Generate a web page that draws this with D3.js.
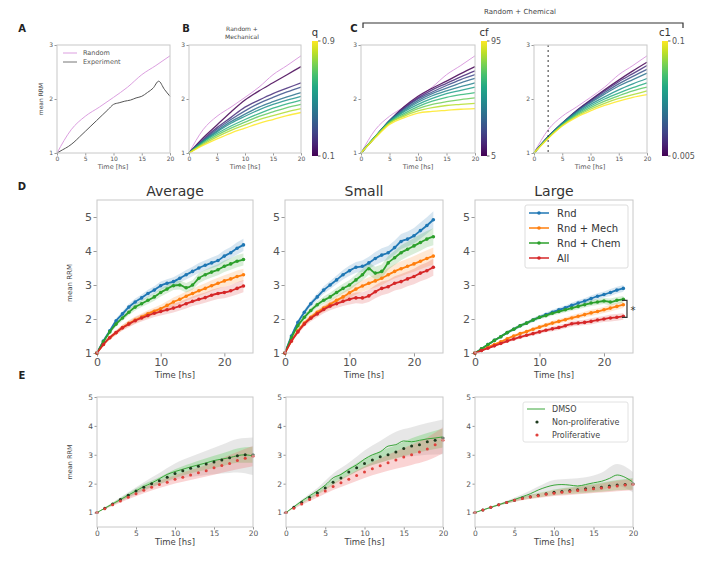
<!DOCTYPE html>
<html>
<head>
<meta charset="utf-8">
<script src="https://cdn.jsdelivr.net/npm/d3@7"></script>
<style>
  body { margin: 0; background: #fff; }
  text { font-family: "DejaVu Sans", sans-serif; }
</style>
</head>
<body>
<div id="vis"></div>
<script>
// ---------- panel A-C data (sampled every 2.5 h) ----------
const tSim = [0, 2.5, 5, 7.5, 10, 12.5, 15, 17.5, 20];
const randomMean = [1, 1.43, 1.68, 1.85, 2.03, 2.22, 2.45, 2.62, 2.8];
const tExp = [0, 1, 2, 3, 4, 5, 6, 7, 8, 9, 10, 11, 12, 13, 14, 15, 16, 17, 18, 19, 20];
const experimentMean = [1, 1.06, 1.12, 1.2, 1.3, 1.4, 1.5, 1.6, 1.7, 1.8, 1.9, 1.93, 1.96, 1.98, 2.02, 2.05, 2.12, 2.2, 2.33, 2.18, 2.05];

const qValues = [0.1, 0.2, 0.3, 0.4, 0.5, 0.6, 0.7, 0.8, 0.9];
const qSeries = [
  [1, 1.28, 1.52, 1.76, 1.98, 2.15, 2.3, 2.45, 2.6],
  [1, 1.25, 1.47, 1.66, 1.85, 1.98, 2.1, 2.2, 2.3],
  [1, 1.23, 1.44, 1.62, 1.78, 1.92, 2.03, 2.13, 2.22],
  [1, 1.22, 1.41, 1.58, 1.72, 1.85, 1.95, 2.04, 2.12],
  [1, 1.21, 1.39, 1.55, 1.68, 1.8, 1.9, 1.98, 2.05],
  [1, 1.2, 1.36, 1.5, 1.62, 1.73, 1.83, 1.91, 1.98],
  [1, 1.18, 1.33, 1.46, 1.57, 1.68, 1.76, 1.84, 1.9],
  [1, 1.16, 1.3, 1.42, 1.52, 1.62, 1.69, 1.76, 1.82],
  [1, 1.14, 1.26, 1.37, 1.46, 1.55, 1.62, 1.69, 1.75]
];

const cfValues = [5, 15, 25, 35, 45, 55, 65, 75, 85, 95];
const cfSeries = [
  [1, 1.3, 1.6, 1.85, 2.05, 2.2, 2.33, 2.47, 2.6],
  [1, 1.3, 1.6, 1.83, 2.02, 2.17, 2.29, 2.41, 2.52],
  [1, 1.3, 1.6, 1.82, 2.0, 2.13, 2.25, 2.36, 2.45],
  [1, 1.3, 1.6, 1.8, 1.97, 2.1, 2.2, 2.3, 2.38],
  [1, 1.3, 1.59, 1.78, 1.94, 2.06, 2.15, 2.23, 2.3],
  [1, 1.3, 1.58, 1.76, 1.9, 2.01, 2.1, 2.16, 2.22],
  [1, 1.3, 1.57, 1.73, 1.86, 1.96, 2.03, 2.08, 2.12],
  [1, 1.3, 1.56, 1.7, 1.82, 1.9, 1.95, 1.99, 2.02],
  [1, 1.29, 1.55, 1.68, 1.78, 1.84, 1.88, 1.9, 1.92],
  [1, 1.28, 1.53, 1.65, 1.74, 1.77, 1.79, 1.81, 1.82]
];

const c1Values = [0.005, 0.017, 0.029, 0.041, 0.053, 0.064, 0.076, 0.088, 0.1];
const c1Series = [
  [1, 1.3, 1.55, 1.78, 1.98, 2.17, 2.35, 2.52, 2.68],
  [1, 1.3, 1.55, 1.78, 1.97, 2.15, 2.32, 2.47, 2.62],
  [1, 1.3, 1.55, 1.77, 1.95, 2.12, 2.28, 2.42, 2.55],
  [1, 1.3, 1.55, 1.76, 1.93, 2.09, 2.24, 2.36, 2.48],
  [1, 1.29, 1.54, 1.74, 1.9, 2.04, 2.17, 2.28, 2.38],
  [1, 1.29, 1.53, 1.72, 1.87, 2.0, 2.11, 2.21, 2.3],
  [1, 1.28, 1.52, 1.7, 1.84, 1.96, 2.06, 2.15, 2.22],
  [1, 1.28, 1.51, 1.68, 1.81, 1.92, 2.01, 2.08, 2.15],
  [1, 1.27, 1.5, 1.66, 1.78, 1.88, 1.96, 2.03, 2.08]
];
const c2Marker = 2.5;

// ---------- panel D data (hourly) ----------
const tD = [0, 1, 2, 3, 4, 5, 6, 7, 8, 9, 10, 11, 12, 13, 14, 15, 16, 17, 18, 19, 20, 21, 22, 23];
const modelNames = ["Rnd", "Rnd + Mech", "Rnd + Chem", "All"];
const modelColors = ["#1f77b4", "#ff7f0e", "#2ca02c", "#d62728"];
const avgRnd  = [1, 1.35, 1.65, 1.95, 2.15, 2.35, 2.5, 2.62, 2.75, 2.85, 2.98, 3.05, 3.1, 3.2, 3.3, 3.4, 3.5, 3.58, 3.65, 3.72, 3.85, 3.95, 4.08, 4.18];
const avgMech = [1, 1.25, 1.45, 1.6, 1.75, 1.87, 1.97, 2.06, 2.15, 2.23, 2.3, 2.4, 2.5, 2.58, 2.67, 2.75, 2.83, 2.9, 2.98, 3.05, 3.12, 3.18, 3.25, 3.3];
const avgChem = [1, 1.33, 1.62, 1.85, 2.03, 2.2, 2.35, 2.45, 2.55, 2.65, 2.78, 2.88, 2.98, 3.0, 2.92, 3.0, 3.2, 3.3, 3.38, 3.45, 3.55, 3.62, 3.7, 3.75];
const avgAll  = [1, 1.25, 1.45, 1.6, 1.74, 1.85, 1.95, 2.03, 2.1, 2.17, 2.22, 2.27, 2.32, 2.38, 2.45, 2.52, 2.58, 2.63, 2.7, 2.75, 2.78, 2.83, 2.9, 2.97];
const smallRnd  = [1, 1.5, 1.9, 2.2, 2.45, 2.65, 2.85, 3.0, 3.15, 3.3, 3.42, 3.52, 3.55, 3.65, 3.78, 3.88, 3.95, 4.1, 4.28, 4.35, 4.45, 4.6, 4.75, 4.92];
const smallMech = [1, 1.35, 1.65, 1.88, 2.05, 2.2, 2.32, 2.43, 2.55, 2.65, 2.77, 2.88, 2.97, 3.05, 3.12, 3.2, 3.3, 3.4, 3.48, 3.55, 3.62, 3.7, 3.78, 3.85];
const smallChem = [1, 1.45, 1.8, 2.05, 2.25, 2.42, 2.55, 2.65, 2.78, 2.9, 3.0, 3.15, 3.3, 3.48, 3.35, 3.4, 3.65, 3.8, 3.95, 4.05, 4.15, 4.25, 4.35, 4.42];
const smallAll  = [1, 1.35, 1.62, 1.85, 2.02, 2.15, 2.28, 2.38, 2.45, 2.52, 2.58, 2.62, 2.62, 2.68, 2.8, 2.9, 2.95, 3.05, 3.1, 3.18, 3.25, 3.35, 3.42, 3.52];
const largeRnd  = [1, 1.12, 1.25, 1.37, 1.48, 1.6, 1.7, 1.8, 1.88, 1.97, 2.05, 2.13, 2.2, 2.27, 2.33, 2.4, 2.47, 2.53, 2.6, 2.67, 2.72, 2.78, 2.85, 2.9];
const largeMech = [1, 1.08, 1.17, 1.25, 1.33, 1.42, 1.5, 1.57, 1.63, 1.7, 1.76, 1.82, 1.88, 1.93, 1.98, 2.03, 2.08, 2.13, 2.18, 2.22, 2.27, 2.32, 2.37, 2.42];
const largeChem = [1, 1.12, 1.25, 1.37, 1.48, 1.6, 1.7, 1.8, 1.88, 1.97, 2.05, 2.1, 2.17, 2.22, 2.27, 2.32, 2.37, 2.42, 2.47, 2.5, 2.53, 2.5, 2.55, 2.58];
const largeAll  = [1, 1.07, 1.14, 1.21, 1.28, 1.35, 1.41, 1.47, 1.52, 1.57, 1.62, 1.67, 1.71, 1.75, 1.8, 1.86, 1.88, 1.9, 1.93, 1.97, 2.0, 2.03, 2.05, 2.08];
const sdAverage = [0, 0.04, 0.06, 0.07, 0.08, 0.09, 0.1, 0.1, 0.11, 0.11, 0.12, 0.12, 0.13, 0.13, 0.14, 0.14, 0.15, 0.15, 0.16, 0.16, 0.17, 0.17, 0.18, 0.18];
const sdSmall   = [0, 0.05, 0.07, 0.08, 0.09, 0.1, 0.11, 0.12, 0.13, 0.14, 0.15, 0.16, 0.17, 0.18, 0.19, 0.2, 0.2, 0.21, 0.22, 0.22, 0.23, 0.24, 0.24, 0.25];
const sdLarge   = [0, 0.02, 0.03, 0.03, 0.04, 0.04, 0.05, 0.05, 0.05, 0.06, 0.06, 0.06, 0.07, 0.07, 0.07, 0.08, 0.08, 0.08, 0.09, 0.09, 0.09, 0.1, 0.1, 0.1];

// ---------- panel E data (hourly means, bands every 2 h) ----------
const tE = [0, 1, 2, 3, 4, 5, 6, 7, 8, 9, 10, 11, 12, 13, 14, 15, 16, 17, 18, 19, 20];
const tBand = [0, 2, 4, 6, 8, 10, 12, 14, 16, 18, 20];
const expNames = ["DMSO", "Non-proliferative", "Proliferative"];
const eAvgDmso = [1.0, 1.15, 1.3, 1.45, 1.6, 1.75, 1.9, 2.02, 2.17, 2.32, 2.42, 2.5, 2.58, 2.65, 2.72, 2.8, 2.85, 2.9, 2.97, 3.0, 2.95];
const eAvgNon  = [1.0, 1.15, 1.3, 1.45, 1.6, 1.75, 1.88, 2.0, 2.1, 2.22, 2.35, 2.45, 2.53, 2.6, 2.68, 2.75, 2.82, 2.9, 2.97, 3.0, 3.0];
const eAvgPro  = [1.0, 1.13, 1.27, 1.4, 1.53, 1.65, 1.77, 1.88, 1.97, 2.05, 2.15, 2.22, 2.3, 2.38, 2.45, 2.55, 2.63, 2.7, 2.8, 2.88, 2.95];
const eSmallDmso = [1.0, 1.2, 1.4, 1.58, 1.75, 1.95, 2.2, 2.32, 2.5, 2.65, 2.85, 3.0, 3.1, 3.3, 3.35, 3.48, 3.45, 3.5, 3.55, 3.58, 3.62];
const eSmallNon  = [1.0, 1.18, 1.35, 1.52, 1.68, 1.85, 2.05, 2.2, 2.4, 2.55, 2.7, 2.82, 2.93, 3.0, 3.1, 3.22, 3.3, 3.35, 3.45, 3.5, 3.58];
const eSmallPro  = [1.0, 1.15, 1.3, 1.45, 1.6, 1.75, 1.9, 2.03, 2.15, 2.28, 2.4, 2.52, 2.62, 2.72, 2.82, 2.92, 3.0, 3.1, 3.2, 3.35, 3.5];
const eLargeDmso = [1.0, 1.09, 1.18, 1.27, 1.36, 1.45, 1.55, 1.65, 1.78, 1.88, 1.95, 1.97, 1.95, 1.92, 1.97, 2.03, 2.08, 2.18, 2.3, 2.22, 2.05];
const eLargeNon  = [1.0, 1.09, 1.18, 1.27, 1.35, 1.43, 1.5, 1.55, 1.6, 1.65, 1.7, 1.73, 1.76, 1.79, 1.82, 1.85, 1.88, 1.92, 1.95, 1.97, 2.0];
const eLargePro  = [1.0, 1.09, 1.18, 1.27, 1.35, 1.43, 1.49, 1.54, 1.58, 1.63, 1.67, 1.7, 1.73, 1.76, 1.79, 1.82, 1.85, 1.88, 1.92, 1.95, 1.97];
const eAvgSdDmso = [0, 0.05, 0.1, 0.15, 0.2, 0.28, 0.35, 0.42, 0.5, 0.58, 0.65];
const eAvgSdNon  = [0, 0.04, 0.07, 0.1, 0.12, 0.15, 0.17, 0.2, 0.22, 0.25, 0.28];
const eAvgSdPro  = [0, 0.04, 0.07, 0.1, 0.12, 0.14, 0.17, 0.2, 0.25, 0.3, 0.35];
const eSmallSdDmso = [0, 0.05, 0.1, 0.15, 0.22, 0.3, 0.38, 0.45, 0.5, 0.55, 0.6];
const eSmallSdNon  = [0, 0.04, 0.07, 0.1, 0.13, 0.16, 0.2, 0.23, 0.27, 0.3, 0.33];
const eSmallSdPro  = [0, 0.04, 0.08, 0.12, 0.16, 0.2, 0.25, 0.3, 0.35, 0.4, 0.45];
const eLargeSdDmso = [0, 0.03, 0.05, 0.08, 0.12, 0.18, 0.22, 0.25, 0.3, 0.38, 0.35];
const eLargeSdNon  = [0, 0.02, 0.04, 0.06, 0.08, 0.1, 0.12, 0.14, 0.16, 0.18, 0.2];
const eLargeSdPro  = [0, 0.02, 0.04, 0.06, 0.08, 0.1, 0.12, 0.14, 0.16, 0.18, 0.2];

const svg = d3.select('#vis').append('svg')
    .attr('width', 720)
    .attr('height', 562);

const frameColor = "#c8c8c8";
const tickColor = "#555";

function makePanel(box, xDomain, yDomain, xTicks, yTicks, fs) {
    const g = svg.append("g");
    const x = d3.scaleLinear().domain(xDomain).range([box.x0, box.x1]);
    const y = d3.scaleLinear().domain(yDomain).range([box.y1, box.y0]);
    const tl = fs > 9 ? 3.5 : 2.5;
    g.append("g")
        .attr("transform", `translate(0,${box.y1})`)
        .call(d3.axisBottom(x).tickValues(xTicks).tickSize(tl).tickPadding(1.5).tickFormat(d3.format("d")))
        .call(a => styleAxis(a, fs));
    g.append("g")
        .attr("transform", `translate(${box.x0},0)`)
        .call(d3.axisLeft(y).tickValues(yTicks).tickSize(tl).tickPadding(1.5).tickFormat(d3.format("d")))
        .call(a => styleAxis(a, fs));
    const marks = g.append("g");
    g.append("rect")
        .attr("x", box.x0).attr("y", box.y0)
        .attr("width", box.x1 - box.x0).attr("height", box.y1 - box.y0)
        .attr("fill", "none").attr("stroke", frameColor).attr("stroke-width", 1);
    return {g, marks, x, y, box};
}

function styleAxis(a, fs) {
    a.select(".domain").remove();
    a.selectAll(".tick line").attr("stroke", "#999");
    a.selectAll(".tick text").attr("fill", tickColor).style("font-size", fs + "px");
}

function label(txt, x, y, opts = {}) {
    const t = svg.append("text")
        .attr("x", x).attr("y", y)
        .attr("text-anchor", opts.anchor || "middle")
        .attr("fill", opts.color || "#444")
        .style("font-size", (opts.size || 7) + "px")
        .style("font-weight", opts.bold ? "bold" : "normal")
        .text(txt);
    if (opts.rotate) t.attr("transform", `rotate(-90,${x},${y})`);
    return t;
}

function drawLine(p, ts, vals, color, width, opacity = 1) {
    p.marks.append("path")
        .datum(ts.map((t, i) => [t, vals[i]]))
        .attr("fill", "none")
        .attr("stroke", color)
        .attr("stroke-width", width)
        .attr("stroke-opacity", opacity)
        .attr("d", d3.line().x(d => p.x(d[0])).y(d => p.y(d[1])).curve(d3.curveMonotoneX));
}

function colorbar(id, x, y0, y1, name, topLabel, bottomLabel) {
    const grad = svg.append("defs").append("linearGradient")
        .attr("id", id).attr("x1", 0).attr("y1", 1).attr("x2", 0).attr("y2", 0);
    d3.range(0, 1.01, 0.1).forEach(o => {
        grad.append("stop").attr("offset", o).attr("stop-color", d3.interpolateViridis(o));
    });
    svg.append("rect").attr("x", x).attr("y", y0).attr("width", 6).attr("height", y1 - y0)
        .attr("fill", `url(#${id})`);
    [[y0, topLabel], [y1, bottomLabel]].forEach(([yy, txt]) => {
        svg.append("line").attr("x1", x + 6).attr("x2", x + 8.5).attr("y1", yy).attr("y2", yy)
            .attr("stroke", "#666");
        label(txt, x + 10, yy + 3, {anchor: "start", size: 8, color: "#555"});
    });
    label(name, x + 3, y0 - 5, {size: 10, color: "#333"});
}

// ---------- A ----------
const simTicks = [0, 5, 10, 15, 20];
const pA = makePanel({x0: 57, x1: 170, y0: 45, y1: 153}, [0, 20], [1, 3], simTicks, [1, 2, 3], 6);
const randomColor = "#dc9fe0";
drawLine(pA, tSim, randomMean, randomColor, 1);
drawLine(pA, tExp, experimentMean, "#555", 1);
[["Random", randomColor, 55], ["Experiment", "#777", 64]].forEach(([txt, c, yy]) => {
    svg.append("line").attr("x1", 63).attr("x2", 77).attr("y1", yy - 2).attr("y2", yy - 2)
        .attr("stroke", c).attr("stroke-width", 1);
    label(txt, 83, yy, {anchor: "start", size: 6.5, color: "#555"});
});
label("A", 22, 32, {size: 10, bold: true, color: "#222"});
label("mean RRM", 43, 99, {size: 6, rotate: true});
label("Time [hs]", 113, 169, {size: 6.5, color: "#555"});

// ---------- B ----------
const pB = makePanel({x0: 189, x1: 301, y0: 45, y1: 153}, [0, 20], [1, 3], simTicks, [1, 2, 3], 6);
drawLine(pB, tSim, randomMean, randomColor, 1);
const qColor = d3.scaleSequential(d3.interpolateViridis).domain([0.1, 0.9]);
qSeries.forEach((s, i) => drawLine(pB, tSim, s, qColor(qValues[i]), 1.3, 0.85));
colorbar("cbq", 312, 41, 156, "q", "0.9", "0.1");
label("B", 186, 32, {size: 10, bold: true, color: "#222"});
label("Random +", 242, 31, {size: 6});
label("Mechanical", 242, 39, {size: 6});
label("Time [hs]", 245, 169, {size: 6.5, color: "#555"});

// ---------- C ----------
const pC1 = makePanel({x0: 361, x1: 475, y0: 45, y1: 153}, [0, 20], [1, 3], simTicks, [1, 2, 3], 6);
drawLine(pC1, tSim, randomMean, randomColor, 1);
const cfColor = d3.scaleSequential(d3.interpolateViridis).domain([5, 95]);
cfSeries.forEach((s, i) => drawLine(pC1, tSim, s, cfColor(cfValues[i]), 1.3, 0.85));
colorbar("cbcf", 481, 41, 156, "cf", "95", "5");

const pC2 = makePanel({x0: 534, x1: 647, y0: 45, y1: 153}, [0, 20], [1, 3], simTicks, [1, 2, 3], 6);
drawLine(pC2, tSim, randomMean, randomColor, 1);
const c1Color = d3.scaleSequential(d3.interpolateViridis).domain([0.005, 0.1]);
c1Series.forEach((s, i) => drawLine(pC2, tSim, s, c1Color(c1Values[i]), 1.3, 0.85));
pC2.marks.append("line")
    .attr("x1", pC2.x(c2Marker)).attr("x2", pC2.x(c2Marker))
    .attr("y1", pC2.y(3)).attr("y2", pC2.y(1))
    .attr("stroke", "#333").attr("stroke-width", 1).attr("stroke-dasharray", "2,3");
colorbar("cbc1", 662, 41, 156, "c1", "0.1", "0.005");
label("C", 354, 32, {size: 10, bold: true, color: "#222"});
label("Time [hs]", 418, 169, {size: 6.5, color: "#555"});
label("Time [hs]", 590, 169, {size: 6.5, color: "#555"});
label("Random + Chemical", 520, 14, {size: 7});
svg.append("path")
    .attr("d", "M363,28 L363,23 L683,23 L683,28")
    .attr("fill", "none").attr("stroke", "#333").attr("stroke-width", 1.2);

// ---------- D ----------
const dBoxes = [
    {x0: 97, x1: 253}, {x0: 285, x1: 443}, {x0: 475, x1: 633}
];
const dTitles = ["Average", "Small", "Large"];
const dSeries = [
    [avgRnd, avgMech, avgChem, avgAll],
    [smallRnd, smallMech, smallChem, smallAll],
    [largeRnd, largeMech, largeChem, largeAll]
];
const dSd = [sdAverage, sdSmall, sdLarge];
const dPanels = dBoxes.map((b, k) => {
    const p = makePanel({x0: b.x0, x1: b.x1, y0: 200, y1: 353}, [0, 24.5], [1, 5.5], [0, 10, 20], [1, 2, 3, 4, 5], 11);
    dSeries[k].forEach((s, i) => {
        p.marks.append("path")
            .datum(tD.map((t, j) => [t, s[j], dSd[k][j]]))
            .attr("fill", modelColors[i]).attr("fill-opacity", 0.18)
            .attr("d", d3.area().x(d => p.x(d[0])).y0(d => p.y(d[1] - d[2])).y1(d => p.y(d[1] + d[2])));
    });
    dSeries[k].forEach((s, i) => {
        drawLine(p, tD, s, modelColors[i], 1.8);
        p.marks.selectAll(null)
            .data(tD.map((t, j) => [t, s[j]]))
            .join("circle")
            .attr("cx", d => p.x(d[0])).attr("cy", d => p.y(d[1]))
            .attr("r", 1.8).attr("fill", modelColors[i]);
    });
    label(dTitles[k], (b.x0 + b.x1) / 2, 196, {size: 14, color: "#333"});
    label("Time [hs]", (b.x0 + b.x1) / 2, 378, {size: 8.5});
    return p;
});
label("D", 22, 190, {size: 10, bold: true, color: "#222"});
label("mean RRM", 72, 283, {size: 7, rotate: true});

// legend D
svg.append("rect").attr("x", 525).attr("y", 205).attr("width", 103).attr("height", 63)
    .attr("rx", 2).attr("fill", "#fff").attr("fill-opacity", 0.85).attr("stroke", "#ddd");
modelNames.forEach((n, i) => {
    const yy = 213 + i * 15;
    svg.append("line").attr("x1", 529).attr("x2", 549).attr("y1", yy).attr("y2", yy)
        .attr("stroke", modelColors[i]).attr("stroke-width", 1.5);
    svg.append("circle").attr("cx", 539).attr("cy", yy).attr("r", 1.8).attr("fill", modelColors[i]);
    label(n, 557, yy + 3.5, {anchor: "start", size: 10, color: "#333"});
});

// significance bracket (Large)
const pL = dPanels[2];
const bx = 627;
svg.append("path")
    .attr("d", `M${bx - 5},${pL.y(2.55)} L${bx},${pL.y(2.55)} L${bx},${pL.y(2.05)} L${bx - 5},${pL.y(2.05)}`)
    .attr("fill", "none").attr("stroke", "#333").attr("stroke-width", 1.2);
label("*", 633, pL.y(2.3) + 5, {size: 10, color: "#333"});

// ---------- E ----------
const eBoxes = [
    {x0: 97, x1: 253}, {x0: 286, x1: 443}, {x0: 475, x1: 633}
];
const eSeries = [
    [eAvgDmso, eAvgNon, eAvgPro],
    [eSmallDmso, eSmallNon, eSmallPro],
    [eLargeDmso, eLargeNon, eLargePro]
];
const eSd = [
    [eAvgSdDmso, eAvgSdNon, eAvgSdPro],
    [eSmallSdDmso, eSmallSdNon, eSmallSdPro],
    [eLargeSdDmso, eLargeSdNon, eLargeSdPro]
];
const bandColors = ["#b0b0b0", "#4cc94c", "#f07070"];
const dmsoColor = "#3aa63a";
const nonColor = "#1e3a1e";
const proColor = "#e0413c";
eBoxes.forEach((b, k) => {
    const p = makePanel({x0: b.x0, x1: b.x1, y0: 397, y1: 527}, [0, 20], [0.5, 5], [0, 5, 10, 15, 20], [1, 2, 3, 4, 5], 7.5);
    eSeries[k].forEach((s, i) => {
        p.marks.append("path")
            .datum(tBand.map((t, j) => [t, s[tE.indexOf(t)], eSd[k][i][j]]))
            .attr("fill", bandColors[i]).attr("fill-opacity", 0.3)
            .attr("d", d3.area().x(d => p.x(d[0]))
                .y0(d => p.y(d[1] - d[2])).y1(d => p.y(d[1] + d[2]))
                .curve(d3.curveMonotoneX));
    });
    drawLine(p, tE, eSeries[k][0], dmsoColor, 1);
    [[eSeries[k][1], nonColor], [eSeries[k][2], proColor]].forEach(([s, c]) => {
        p.marks.selectAll(null)
            .data(tE.map((t, j) => [t, s[j]]))
            .join("circle")
            .attr("cx", d => p.x(d[0])).attr("cy", d => p.y(d[1]))
            .attr("r", 1.5).attr("fill", c);
    });
    label("Time [hs]", (b.x0 + b.x1) / 2, 545, {size: 8.5});
});
label("E", 22, 379, {size: 10, bold: true, color: "#222"});
label("mean RRM", 72, 462, {size: 6.5, rotate: true});

// legend E
svg.append("rect").attr("x", 523).attr("y", 402).attr("width", 105).attr("height", 40)
    .attr("rx", 2).attr("fill", "#fff").attr("fill-opacity", 0.85).attr("stroke", "#e2e2e2");
svg.append("line").attr("x1", 527).attr("x2", 545).attr("y1", 409).attr("y2", 409)
    .attr("stroke", dmsoColor).attr("stroke-width", 1);
svg.append("circle").attr("cx", 537).attr("cy", 422).attr("r", 1.6).attr("fill", nonColor);
svg.append("circle").attr("cx", 537).attr("cy", 435).attr("r", 1.6).attr("fill", proColor);
expNames.forEach((n, i) => {
    label(n, 552, 412 + i * 13, {anchor: "start", size: 8, color: "#444"});
});
</script>
</body>
</html>
